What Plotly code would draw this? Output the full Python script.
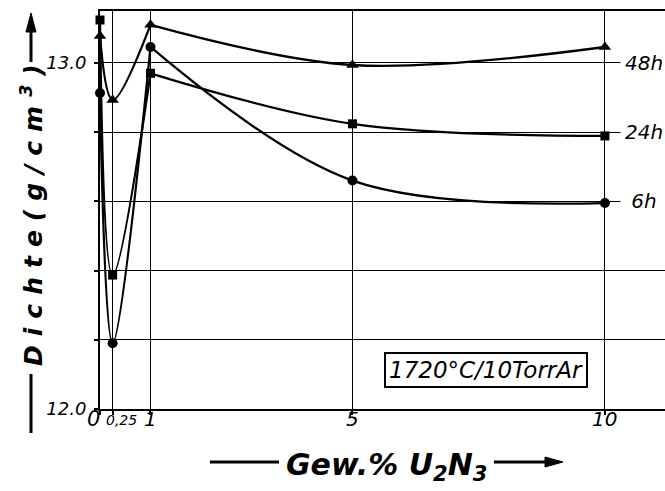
import plotly.graph_objects as go

# Sintered density (g/cm³) versus U2N3 content (wt.%), three holding times
gew_pct = [0, 0.25, 1, 5, 10]
dichte_6h = [12.913, 12.19, 13.046, 12.66, 12.595]
dichte_24h = [13.124, 12.387, 12.97, 12.824, 12.789]
dichte_48h = [13.078, 12.893, 13.11, 12.994, 13.046]

series_names = ["6h", "24h", "48h"]
label_levels = [12.6, 12.8, 13.0]

x_tick_vals = [0, 0.25, 1, 5, 10]
x_tick_text = ["0", "0,25", "1", "5", "10"]
x_tick_size = [21, 14, 20, 20, 20]
x_tick_shift = [-7, 9, 0, 0, 0]
y_tick_vals = [12.0, 13.0]
y_tick_text = ["12.0", "13.0"]

FONT = "DejaVu Sans"
W, H = 665, 491
ML, MR, MT, MB = 100, 0, 11, 82
X_RANGE = [0, 11.19]
Y_RANGE = [12.0, 13.15]
PEAK = 2  # index of the 1 wt.% sample, where every curve has its sharp maximum


def px_to_paper(px, py):
    pw = W - ML - MR
    ph = H - MT - MB
    return (px - ML) / pw, (H - MB - py) / ph


def paper_line(p0, p1):
    a = px_to_paper(*p0)
    b = px_to_paper(*p1)
    return dict(type="line", xref="paper", yref="paper",
                x0=a[0], y0=a[1], x1=b[0], y1=b[1],
                line=dict(color="black", width=3))


def paper_triangle(pts):
    coords = [px_to_paper(*p) for p in pts]
    path = "M {} {} L {} {} L {} {} Z".format(*[c for xy in coords for c in xy])
    return dict(type="path", xref="paper", yref="paper", path=path,
                fillcolor="black", line=dict(color="black", width=1))


fig = go.Figure()

series = [
    (dichte_6h, "circle", 10),
    (dichte_24h, "square", 9),
    (dichte_48h, "triangle-up", 11),
]
for (vals, sym, size), name in zip(series, series_names):
    # smooth curve drawn in two pieces so the maximum at 1 wt.% stays pointed
    pieces = ((gew_pct[:PEAK + 1], vals[:PEAK + 1], 1.0),
              (gew_pct[PEAK:], vals[PEAK:], 1.0))
    for xs, ys, sm in pieces:
        fig.add_trace(go.Scatter(
            x=xs, y=ys, name=name, mode="lines", hoverinfo="skip",
            line=dict(color="black", width=2.3, shape="spline", smoothing=sm),
            cliponaxis=False,
        ))
    fig.add_trace(go.Scatter(
        x=gew_pct, y=vals, name=name, mode="markers",
        marker=dict(symbol=sym, size=size, color="black"),
        cliponaxis=False,
    ))

# curve labels at the right-hand end of the grid
for name, lvl in zip(series_names, label_levels):
    fig.add_annotation(
        x=10.3, y=lvl, xref="x", yref="y", xanchor="left", yanchor="middle",
        text=name, showarrow=False, width=44, align="center",
        bgcolor="white", borderpad=1,
        font=dict(family=FONT, size=20, color="black", style="italic"),
    )

# x tick labels
for v, t, s, sh in zip(x_tick_vals, x_tick_text, x_tick_size, x_tick_shift):
    fig.add_annotation(
        x=v, y=px_to_paper(0, 433)[1], xref="x", yref="paper",
        text=t, showarrow=False, xshift=sh, yshift=(3 if s < 18 else 0),
        font=dict(family=FONT, size=s, color="black", style="italic"),
    )

# sintering condition box
fig.add_annotation(
    x=7.64, y=12.113, xref="x", yref="y", text="1720°C/10TorrAr",
    showarrow=False, bgcolor="white", bordercolor="black", borderwidth=2,
    borderpad=3, font=dict(family=FONT, size=23, color="black", style="italic"),
)

# y-axis title with upward arrow
tx, ty = px_to_paper(14, 211)
fig.add_annotation(
    x=tx, y=ty, xref="paper", yref="paper", text="Dichte(g/cm<sup>3</sup>)",
    textangle=-90, showarrow=False,
    font=dict(family=FONT, size=25, color="black", style="italic", weight="bold"),
)
fig.add_shape(paper_line((31, 433), (31, 374)))
fig.add_shape(paper_line((31, 62), (31, 28)))
fig.add_shape(paper_triangle([(31, 13), (26, 32), (36, 32)]))

# x-axis title with rightward arrow
xt, yt = px_to_paper(386, 466)
fig.add_annotation(
    x=xt, y=yt, xref="paper", yref="paper", text="Gew.% U<sub>2</sub>N<sub>3</sub>",
    showarrow=False, yanchor="middle",
    font=dict(family=FONT, size=30, color="black", style="italic", weight="bold"),
)
fig.add_shape(paper_line((210, 462), (279, 462)))
fig.add_shape(paper_line((494, 462), (548, 462)))
fig.add_shape(paper_triangle([(563, 462), (545, 457), (545, 467)]))

fig.update_xaxes(
    range=X_RANGE, tickvals=x_tick_vals, showticklabels=False,
    showgrid=True, gridcolor="black", gridwidth=1.3, zeroline=False,
    showline=True, linecolor="black", linewidth=2, mirror=True,
    ticks="outside", ticklen=4, tickcolor="black", tickwidth=2,
)
fig.update_yaxes(
    range=Y_RANGE, tickvals=y_tick_vals, ticktext=y_tick_text,
    showgrid=True, gridcolor="black", gridwidth=1.3, zeroline=False,
    showline=True, linecolor="black", linewidth=2, mirror=False,
    ticks="outside", ticklen=4, tickcolor="black", tickwidth=2,
    ticklabelstandoff=4,
    tickfont=dict(family=FONT, size=18, color="black", style="italic"),
    minor=dict(dtick=0.2, showgrid=True, gridcolor="black", gridwidth=1.3,
               ticks="outside", ticklen=4, tickcolor="black", tickwidth=2),
)
fig.update_layout(
    width=W, height=H, showlegend=False,
    margin=dict(l=ML, r=MR, t=MT, b=MB),
    paper_bgcolor="white", plot_bgcolor="white",
)

# widen the letter spacing of the vertical axis title
spacing_js = """
document.querySelectorAll('.annotation-text').forEach(function (t) {
  if (t.textContent.indexOf('Dichte') === 0) { t.style.letterSpacing = '9px'; }
});
"""

fig.write_html("out.html", post_script=spacing_js)
